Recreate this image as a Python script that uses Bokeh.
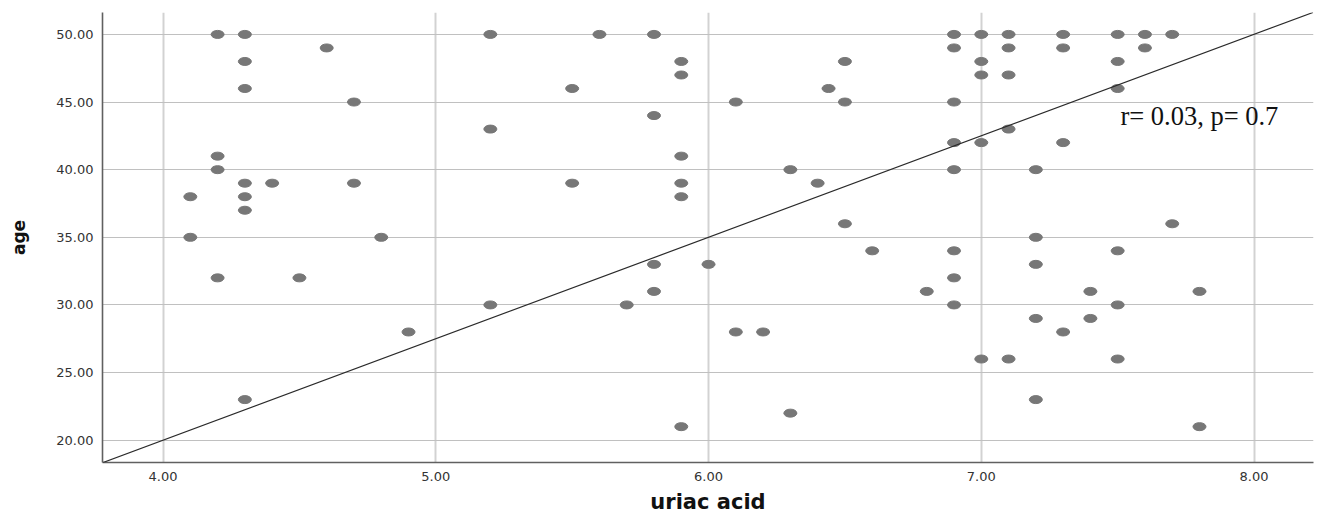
from bokeh.plotting import figure
from bokeh.models import FixedTicker, PrintfTickFormatter, Slope, Label, Range1d
from bokeh.embed import file_html
from bokeh.resources import INLINE

# ---- data ----
uric_acid = [
    4.1, 4.1,
    4.2, 4.2, 4.2, 4.2,
    4.3, 4.3, 4.3, 4.3, 4.3, 4.3, 4.3,
    4.4, 4.5, 4.6, 4.7, 4.7, 4.8, 4.9,
    5.2, 5.2, 5.2,
    5.5, 5.5, 5.6, 5.7,
    5.8, 5.8, 5.8, 5.8,
    5.9, 5.9, 5.9, 5.9, 5.9, 5.9,
    6.0, 6.1, 6.1, 6.2, 6.3, 6.3, 6.4, 6.44,
    6.5, 6.5, 6.5, 6.6, 6.8,
    6.9, 6.9, 6.9, 6.9, 6.9, 6.9, 6.9, 6.9,
    7.0, 7.0, 7.0, 7.0, 7.0,
    7.1, 7.1, 7.1, 7.1, 7.1,
    7.2, 7.2, 7.2, 7.2, 7.2,
    7.3, 7.3, 7.3, 7.3,
    7.4, 7.4,
    7.5, 7.5, 7.5, 7.5, 7.5, 7.5,
    7.6, 7.6, 7.7, 7.7, 7.8, 7.8,
]
age = [
    38, 35,
    50, 41, 40, 32,
    50, 48, 46, 39, 38, 37, 23,
    39, 32, 49, 45, 39, 35, 28,
    50, 43, 30,
    46, 39, 50, 30,
    50, 44, 33, 31,
    48, 47, 41, 39, 38, 21,
    33, 45, 28, 28, 40, 22, 39, 46,
    48, 45, 36, 34, 31,
    50, 49, 45, 42, 40, 34, 32, 30,
    50, 48, 47, 42, 26,
    50, 49, 47, 43, 26,
    40, 35, 33, 29, 23,
    50, 49, 42, 28,
    31, 29,
    50, 48, 46, 34, 30, 26,
    50, 49, 50, 36, 31, 21,
]
x_ticks = [4, 5, 6, 7, 8]
y_ticks = [20, 25, 30, 35, 40, 45, 50]
line_gradient = 7.5
line_intercept = -10.0
annotation = "r= 0.03, p= 0.7"
annotation_x = 7.51
annotation_y = 43.94

p = figure(width=1314, height=517, output_backend="svg", toolbar_location=None,
           x_range=Range1d(3.778, 8.218), y_range=Range1d(18.35, 51.62),
           min_border_left=102, min_border_right=1, min_border_top=12, min_border_bottom=55)
p.outline_line_color = None
p.background_fill_color = "white"
p.border_fill_color = "white"

# grid
p.xgrid.ticker = FixedTicker(ticks=x_ticks)
p.ygrid.ticker = FixedTicker(ticks=y_ticks)
p.xgrid.grid_line_color = "#d2d2d2"
p.xgrid.grid_line_width = 2
p.ygrid.grid_line_color = "#c0c0c0"
p.ygrid.grid_line_width = 1.2

for ax, ticks in ((p.xaxis, x_ticks), (p.yaxis, y_ticks)):
    ax.ticker = FixedTicker(ticks=ticks)
    ax.formatter = PrintfTickFormatter(format="%.2f")
    ax.major_tick_line_color = None
    ax.minor_tick_line_color = None
    ax.major_tick_out = 0
    ax.major_tick_in = 0
    ax.axis_line_color = "#606060"
    ax.axis_line_width = 1.6
    ax.major_label_text_font = "DejaVu Sans"
    ax.major_label_text_font_size = "13px"
    ax.major_label_text_color = "#333333"
    ax.major_label_standoff = 9
    ax.axis_label_text_font = "DejaVu Sans"
    ax.axis_label_text_font_style = "bold"
    ax.axis_label_text_color = "#111111"

p.xaxis.axis_label = "uriac acid"
p.xaxis.axis_label_text_font_size = "21px"
p.xaxis.axis_label_standoff = 6
p.yaxis.axis_label = "age"
p.yaxis.axis_label_text_font_size = "17px"
p.yaxis.axis_label_standoff = 24

p.add_layout(Slope(gradient=line_gradient, y_intercept=line_intercept,
                   line_color="#2a2a2a", line_width=1.2))

p.ellipse(x=uric_acid, y=age, width=13, height=8, width_units="screen",
          height_units="screen", fill_color="#777777", line_color="#777777")

p.add_layout(Label(x=annotation_x, y=annotation_y, text=annotation,
                   text_font="Liberation Serif", text_font_size="26.5px",
                   text_color="#111111", text_baseline="alphabetic"))

open("out.html", "w").write(file_html(p, INLINE))
